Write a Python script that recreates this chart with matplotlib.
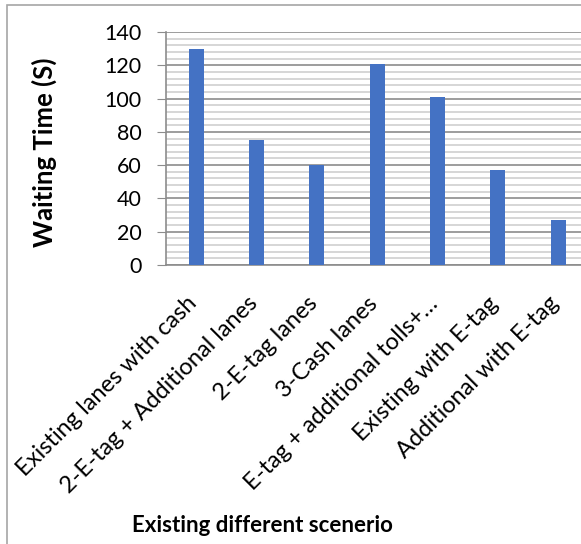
import matplotlib.pyplot as plt
import numpy as np
from matplotlib.patches import Rectangle
from matplotlib.ticker import MultipleLocator
from matplotlib.transforms import ScaledTranslation

plt.rcParams['font.family'] = ['Lato', 'DejaVu Sans']

labels = ['Existing lanes with cash', '2-E-tag + Additional lanes', '2-E-tag lanes',
          '3-Cash lanes', 'E-tag + additional tolls+…', 'Existing with E-tag',
          'Additional with E-tag']
waiting = [130, 75, 60, 121, 101, 57, 27]

fig = plt.figure(figsize=(5.81, 5.44), dpi=100)
# outer chart border (cropped at right/bottom)
fig.patches.append(Rectangle((7 / 581, -0.1), 1.2, 1 - 5 / 544 + 0.1,
                             transform=fig.transFigure, fill=False,
                             edgecolor='#a6a6a6', linewidth=1.2))

ax = fig.add_axes([166 / 581, 1 - 265 / 544, 1 - 166 / 581, 233 / 544])
x = np.arange(len(labels))
ax.bar(x, waiting, width=0.25, color='#4472c4', zorder=3)

ax.set_xlim(-0.5, 6.38)
ax.set_ylim(0, 140)
ax.yaxis.set_major_locator(MultipleLocator(20))
ax.yaxis.set_minor_locator(MultipleLocator(4))
ax.grid(which='major', axis='y', color='#8c8c8c', linewidth=1.2, zorder=0)
ax.grid(which='minor', axis='y', color='#d0d0d0', linewidth=1.2, zorder=0)

for s in ['top', 'right']:
    ax.spines[s].set_visible(False)
for s in ['left', 'bottom']:
    ax.spines[s].set_color('#8c8c8c')
    ax.spines[s].set_linewidth(1.2)

ax.tick_params(axis='y', which='major', length=6.5, color='#8c8c8c', labelsize=15.5, pad=11)
ax.tick_params(axis='y', which='minor', length=0)
ax.tick_params(axis='x', length=0, labelsize=17, pad=20)
ax.set_xticks(x)
ax.set_xticklabels(labels, rotation=45, ha='right', rotation_mode='anchor')
shift = ScaledTranslation(-10 / 100, 0, fig.dpi_scale_trans)
for t in ax.get_xticklabels():
    t.set_transform(t.get_transform() + shift)

fig.text(44 / 581, 1 - 152 / 544, 'Waiting Time (S)', fontsize=18.5, fontweight='bold',
         rotation=90, ha='center', va='center')
fig.text(262 / 581, 1 - 525 / 544, 'Existing different scenerio', fontsize=16,
         fontweight='bold', ha='center', va='center')

fig.savefig('out.png', dpi=100)
